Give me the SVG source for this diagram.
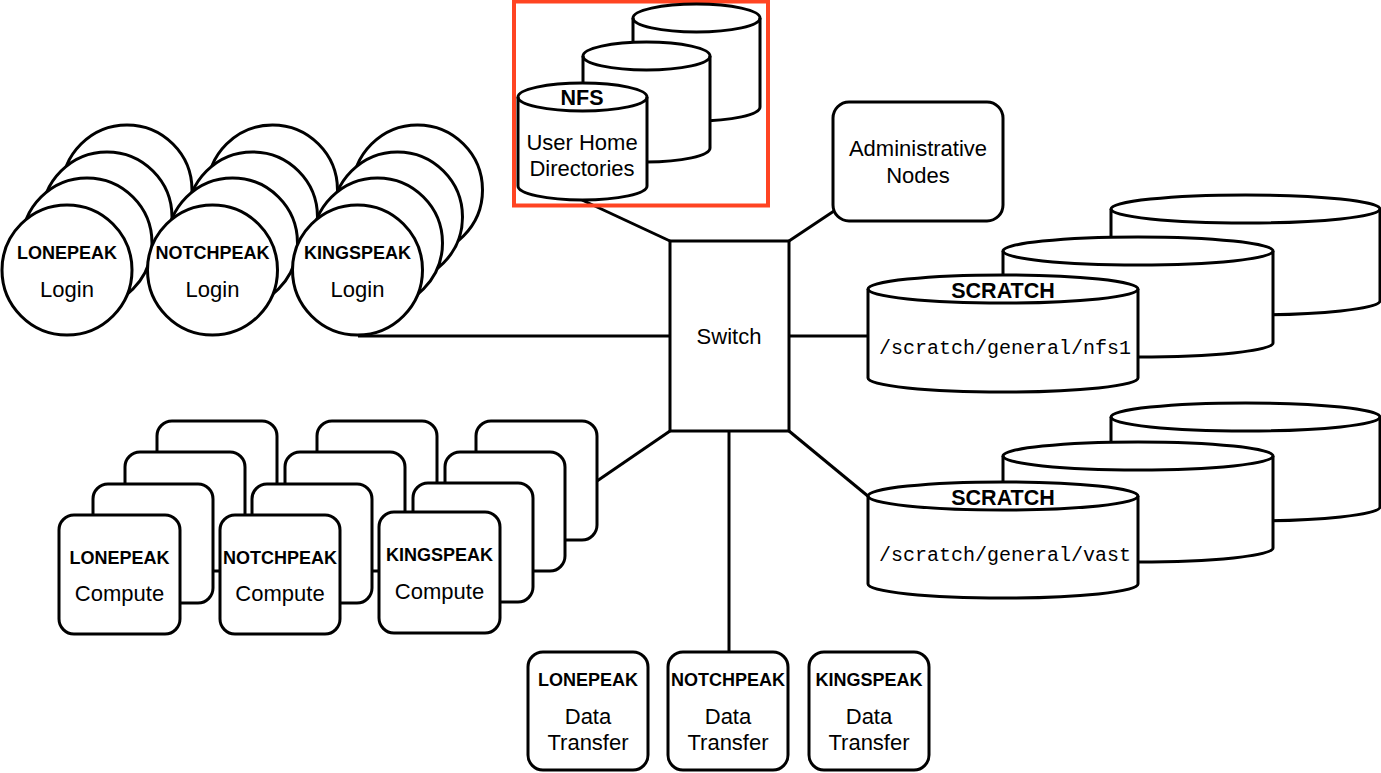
<svg xmlns="http://www.w3.org/2000/svg" width="1381" height="773" viewBox="0 0 1381 773">
<style>
.s{fill:#fff;stroke:#000;stroke-width:3}
.n{fill:none;stroke:#000;stroke-width:3}
.c{stroke:#000;stroke-width:3;fill:none}
text{font-family:"Liberation Sans",Arial,sans-serif;fill:#000;text-anchor:middle}
.b{font-weight:bold;font-size:18px}
.bb{font-weight:bold;font-size:21.5px}
.t{font-size:22px}
.m{font-family:"Liberation Mono","Courier New",monospace;font-size:20px}
</style>
<rect width="1381" height="773" fill="#fff"/>
<g id="connectors">
<line class="c" x1="582" y1="200" x2="670" y2="241"/>
<line class="c" x1="789" y1="241" x2="834" y2="211"/>
<line class="c" x1="358" y1="336" x2="670" y2="336"/>
<line class="c" x1="789" y1="336" x2="868" y2="336"/>
<line class="c" x1="597" y1="481" x2="670" y2="431"/>
<line class="c" x1="789" y1="431" x2="869" y2="497"/>
<line class="c" x1="729" y1="431" x2="729" y2="652"/>
</g>
<g id="nfs">
<rect x="514" y="1.5" width="254" height="204" fill="none" stroke="#FF4422" stroke-width="4"/>
<path class="s" d="M633,18 A63.5,14 0 0 1 760,18 L760,107 A63.5,14 0 0 1 633,107 Z"/>
<path class="n" d="M633,18 A63.5,14 0 0 0 760,18"/>
<path class="s" d="M583,56 A63.5,14 0 0 1 710,56 L710,148 A63.5,14 0 0 1 583,148 Z"/>
<path class="n" d="M583,56 A63.5,14 0 0 0 710,56"/>
<path class="s" d="M518,97 A64.5,14 0 0 1 647,97 L647,186 A64.5,14 0 0 1 518,186 Z"/>
<path class="n" d="M518,97 A64.5,14 0 0 0 647,97"/>
<text class="bb" x="582" y="104.7">NFS</text>
<text class="t" x="582" y="150">User Home</text>
<text class="t" x="582" y="176">Directories</text>
</g>
<g id="admin">
<rect class="s" x="833" y="102" width="170" height="119" rx="16"/>
<text class="t" x="918" y="156">Administrative</text>
<text class="t" x="918" y="182.5">Nodes</text>
</g>
<g id="switch">
<rect class="s" x="670" y="241" width="119" height="190"/>
<text class="t" x="729" y="344">Switch</text>
</g>
<g id="login-lonepeak">
<circle class="s" cx="127" cy="190" r="65"/>
<circle class="s" cx="107" cy="217" r="65"/>
<circle class="s" cx="87" cy="243" r="65"/>
<circle class="s" cx="67" cy="270" r="65"/>
<text class="b" x="67" y="258.5">LONEPEAK</text>
<text class="t" x="67" y="297">Login</text>
</g>
<g id="login-notchpeak">
<circle class="s" cx="272.5" cy="190" r="65"/>
<circle class="s" cx="252.5" cy="217" r="65"/>
<circle class="s" cx="232.5" cy="243" r="65"/>
<circle class="s" cx="212.5" cy="270" r="65"/>
<text class="b" x="212.5" y="258.5">NOTCHPEAK</text>
<text class="t" x="212.5" y="297">Login</text>
</g>
<g id="login-kingspeak">
<circle class="s" cx="417.5" cy="190" r="65"/>
<circle class="s" cx="397.5" cy="217" r="65"/>
<circle class="s" cx="377.5" cy="243" r="65"/>
<circle class="s" cx="357.5" cy="270" r="65"/>
<text class="b" x="357.5" y="258.5">KINGSPEAK</text>
<text class="t" x="357.5" y="297">Login</text>
</g>
<g id="compute-lonepeak">
<rect class="s" x="157" y="421" width="120" height="119" rx="15"/>
<rect class="s" x="125" y="452" width="120" height="119" rx="15"/>
<rect class="s" x="93" y="484" width="120" height="119" rx="15"/>
<rect class="s" x="59" y="515" width="121" height="119" rx="15"/>
<text class="b" x="119.5" y="563.5">LONEPEAK</text>
<text class="t" x="119.5" y="601">Compute</text>
</g>
<g id="compute-notchpeak">
<rect class="s" x="317" y="421" width="120" height="119" rx="15"/>
<rect class="s" x="285" y="452" width="120" height="119" rx="15"/>
<rect class="s" x="252" y="484" width="120" height="119" rx="15"/>
<rect class="s" x="220" y="515" width="120" height="119" rx="15"/>
<text class="b" x="280" y="563.5">NOTCHPEAK</text>
<text class="t" x="280" y="601">Compute</text>
</g>
<g id="compute-kingspeak">
<rect class="s" x="476" y="421" width="121" height="119" rx="15"/>
<rect class="s" x="445" y="452" width="120" height="119" rx="15"/>
<rect class="s" x="413" y="483" width="120" height="119" rx="15"/>
<rect class="s" x="379" y="512" width="121" height="121" rx="15"/>
<text class="b" x="439.5" y="560.5">KINGSPEAK</text>
<text class="t" x="439.5" y="599">Compute</text>
</g>
<g id="scratch-nfs1">
<path class="s" d="M1111,209 A134.5,14 0 0 1 1380,209 L1380,301 A134.5,14 0 0 1 1111,301 Z"/>
<path class="n" d="M1111,209 A134.5,14 0 0 0 1380,209"/>
<path class="s" d="M1003,251 A135,14 0 0 1 1273,251 L1273,343 A135,14 0 0 1 1003,343 Z"/>
<path class="n" d="M1003,251 A135,14 0 0 0 1273,251"/>
<path class="s" d="M868,289 A135,14 0 0 1 1138,289 L1138,378 A135,14 0 0 1 868,378 Z"/>
<path class="n" d="M868,289 A135,14 0 0 0 1138,289"/>
<text class="bb" x="1003" y="297.7">SCRATCH</text>
<text class="m" x="1005" y="354">/scratch/general/nfs1</text>
</g>
<g id="scratch-vast">
<path class="s" d="M1111,417 A134.5,14 0 0 1 1380,417 L1380,507 A134.5,14 0 0 1 1111,507 Z"/>
<path class="n" d="M1111,417 A134.5,14 0 0 0 1380,417"/>
<path class="s" d="M1003,456 A135,14 0 0 1 1273,456 L1273,548 A135,14 0 0 1 1003,548 Z"/>
<path class="n" d="M1003,456 A135,14 0 0 0 1273,456"/>
<path class="s" d="M868,496 A135,14 0 0 1 1138,496 L1138,584 A135,14 0 0 1 868,584 Z"/>
<path class="n" d="M868,496 A135,14 0 0 0 1138,496"/>
<text class="bb" x="1003" y="504.7">SCRATCH</text>
<text class="m" x="1005" y="561">/scratch/general/vast</text>
</g>
<g id="dt-lonepeak">
<rect class="s" x="528" y="652" width="120" height="118" rx="15"/>
<text class="b" x="588" y="685.5">LONEPEAK</text>
<text class="t" x="588" y="724">Data</text>
<text class="t" x="588" y="749.5">Transfer</text>
</g>
<g id="dt-notchpeak">
<rect class="s" x="668" y="652" width="120" height="118" rx="15"/>
<text class="b" x="728" y="685.5">NOTCHPEAK</text>
<text class="t" x="728" y="724">Data</text>
<text class="t" x="728" y="749.5">Transfer</text>
</g>
<g id="dt-kingspeak">
<rect class="s" x="809" y="652" width="120" height="118" rx="15"/>
<text class="b" x="869" y="685.5">KINGSPEAK</text>
<text class="t" x="869" y="724">Data</text>
<text class="t" x="869" y="749.5">Transfer</text>
</g>
</svg>
